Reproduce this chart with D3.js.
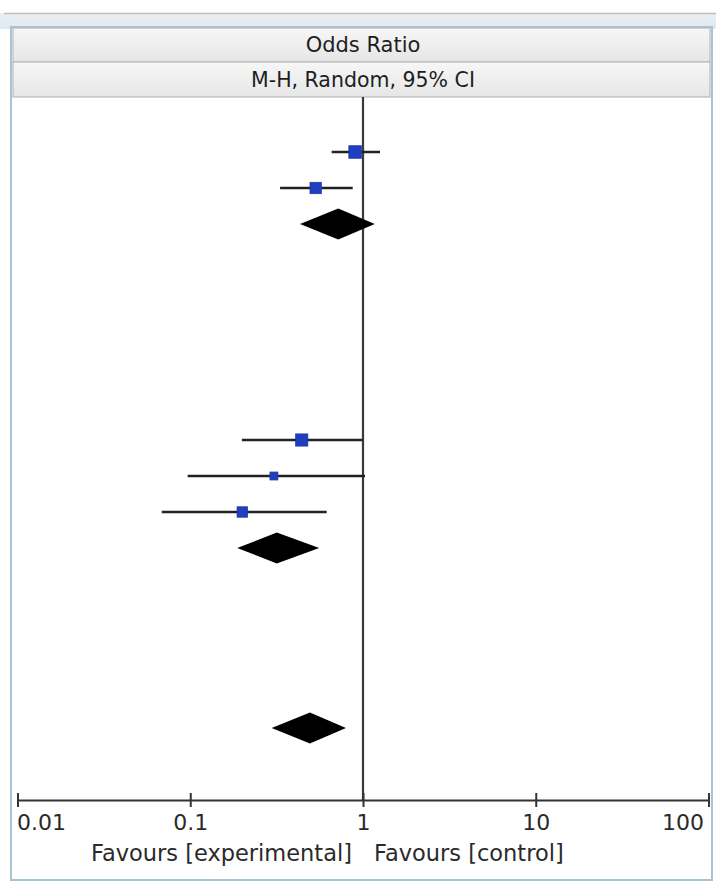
<!DOCTYPE html>
<html><head><meta charset="utf-8">
<script src="https://cdn.jsdelivr.net/npm/d3@7"></script>
<style>
html,body{margin:0;padding:0;background:#fff;}
svg{display:block;font-family:"DejaVu Sans",sans-serif;}
</style></head>
<body><svg id="c" width="716" height="886"></svg>
<script>
// ---- data ----
const studyRows   = [1, 2, 9, 10, 11];
const studyOR     = [0.90, 0.532, 0.442, 0.305, 0.200];
const studyLow    = [0.659, 0.331, 0.199, 0.0966, 0.0684];
const studyHigh   = [1.254, 0.872, 1.0, 1.027, 0.616];
const studyWeight = [55, 45, 52, 22, 38];
const pooledRows  = [3, 12, 17];
const pooledOR    = [0.719, 0.317, 0.493];
const pooledLow   = [0.432, 0.187, 0.296];
const pooledHigh  = [1.17, 0.558, 0.797];
const tickValues  = [0.01, 0.1, 1, 10, 100];
const tickLabels  = ["0.01", "0.1", "1", "10", "100"];
const headerTitle = "Odds Ratio";
const headerSub   = "M-H, Random, 95% CI";
const favLeft     = "Favours [experimental]";
const favRight    = "Favours [control]";

const svg = d3.select("#c");
const W = 716;

// ---- frame / header ----
const defs = svg.append("defs");
const g1 = defs.append("linearGradient").attr("id","hdr").attr("x1",0).attr("y1",0).attr("x2",0).attr("y2",1);
g1.append("stop").attr("offset","0%").attr("stop-color","#f7f7f7");
g1.append("stop").attr("offset","100%").attr("stop-color","#e6e6e6");
const g2 = defs.append("linearGradient").attr("id","top").attr("x1",0).attr("y1",0).attr("x2",0).attr("y2",1);
g2.append("stop").attr("offset","0%").attr("stop-color","#e9eff4");
g2.append("stop").attr("offset","100%").attr("stop-color","#dfe9f1");

svg.append("rect").attr("x",0).attr("y",13).attr("width",W).attr("height",16).attr("fill","url(#top)");
svg.append("line").attr("x1",4).attr("x2",W).attr("y1",13.5).attr("y2",13.5).attr("stroke","#bdbdbd").attr("stroke-width",1.5);

// outer frame
svg.append("rect").attr("x",11).attr("y",27).attr("width",701).attr("height",853)
  .attr("fill","#fff").attr("stroke","#a9c2d4").attr("stroke-width",2);

// header rows
const hdrRows = [{y:28,h:34,t:headerTitle,fs:21},{y:62,h:35,t:headerSub,fs:20.5}];
hdrRows.forEach(r=>{
  svg.append("rect").attr("x",13).attr("y",r.y).attr("width",697).attr("height",r.h)
    .attr("fill","url(#hdr)").attr("stroke","#b9b9b9").attr("stroke-width",1.2);
  svg.append("text").attr("x",363).attr("y",r.y+r.h/2+7).attr("text-anchor","middle")
    .attr("font-size",r.fs).attr("fill","#1e1e1e").text(r.t);
});

// ---- scales ----
const x = d3.scaleLog().domain([0.01,100]).range([17.5,708.5]);
const y = d3.scaleLinear().domain([0,19]).range([116,800]);
const axisY = y(19);

// null line
svg.append("line").attr("x1",x(1)).attr("x2",x(1)).attr("y1",97).attr("y2",axisY)
  .attr("stroke","#3a3a3a").attr("stroke-width",2.2);

// studies
const studies = studyRows.map((r,i)=>({r,or:studyOR[i],lo:studyLow[i],hi:studyHigh[i],w:studyWeight[i]}));
const sz = d3.scaleSqrt().domain([0,55]).range([0,12.5]);
const sg = svg.append("g");
sg.selectAll("line.ci").data(studies).join("line")
  .attr("x1",d=>x(d.lo)).attr("x2",d=>x(d.hi)).attr("y1",d=>y(d.r)).attr("y2",d=>y(d.r))
  .attr("stroke","#222").attr("stroke-width",2.4);
sg.selectAll("rect.sq").data(studies).join("rect")
  .attr("x",d=>x(d.or)-sz(d.w)/2).attr("y",d=>y(d.r)-sz(d.w)/2)
  .attr("width",d=>sz(d.w)).attr("height",d=>sz(d.w))
  .attr("fill","#1f3fbf").attr("stroke","#1a35a8").attr("stroke-width",0.8);

// diamonds
const pooled = pooledRows.map((r,i)=>({r,or:pooledOR[i],lo:pooledLow[i],hi:pooledHigh[i]}));
svg.append("g").selectAll("path").data(pooled).join("path")
  .attr("d",d=>{
    const cy=y(d.r), h=15.5;
    return `M${x(d.lo)},${cy}L${x(d.or)},${cy-h}L${x(d.hi)},${cy}L${x(d.or)},${cy+h}Z`;
  }).attr("fill","#000");

// axis
const ax = d3.axisBottom(x).tickValues(tickValues).tickFormat((d,i)=>tickLabels[i])
  .tickSizeInner(7).tickSizeOuter(0);
const ag = svg.append("g").attr("transform",`translate(0,${axisY})`).call(ax);
ag.attr("font-size",22).attr("font-family","DejaVu Sans, sans-serif");
ag.select(".domain").attr("stroke","#333").attr("stroke-width",2.2);
ag.selectAll(".tick line").attr("y1",-7).attr("stroke","#333").attr("stroke-width",2);
ag.selectAll(".tick text").attr("font-size",22)
  .attr("fill","#2a2a2a").attr("y",30).attr("dy",0)
  .attr("text-anchor",(d,i)=> i===0?"start":(i===tickValues.length-1?"end":"middle"))
  .attr("dx",(d,i)=> i===0?"-1":(i===tickValues.length-1?"-5":"0"));

// favours labels
svg.append("text").attr("x",x(1)-11).attr("y",861).attr("text-anchor","end")
  .attr("font-size",22.5).attr("fill","#2a2a2a").text(favLeft);
svg.append("text").attr("x",x(1)+11).attr("y",861).attr("text-anchor","start")
  .attr("font-size",22.5).attr("fill","#2a2a2a").text(favRight);
</script></body></html>
